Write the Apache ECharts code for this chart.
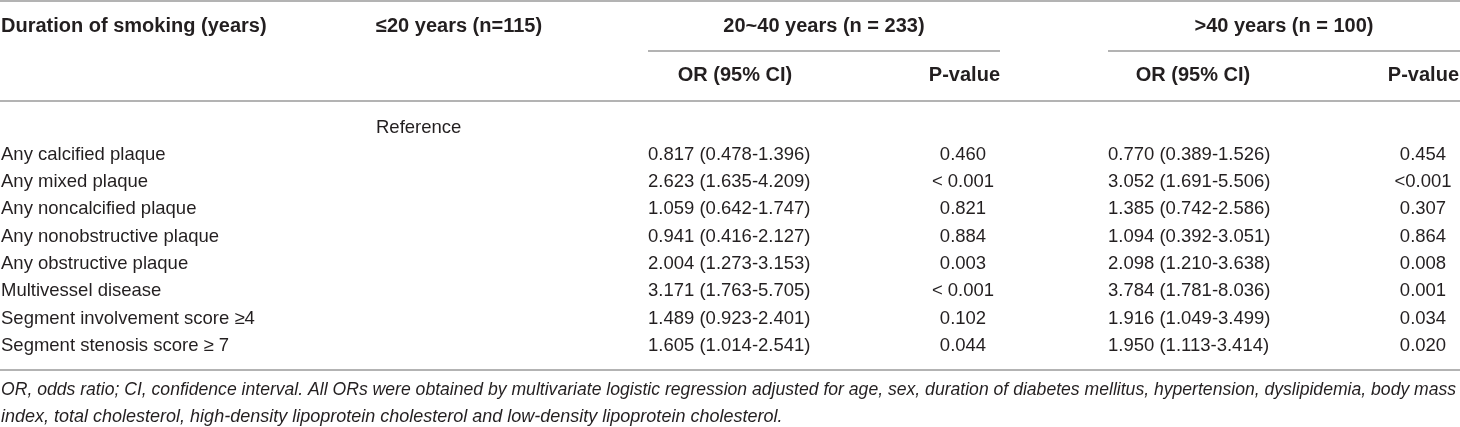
<!DOCTYPE html>
<html>
<head>
<meta charset="utf-8">
<script src="https://cdn.jsdelivr.net/npm/echarts@6/dist/echarts.min.js"></script>
<style>
  html, body { margin: 0; padding: 0; background: #fff; }
  #main { width: 1460px; height: 427px; }
</style>
</head>
<body>
<div id="main"></div>
<script>
// table content
var groupHeaders = ['≤20 years (n=115)', '20~40 years (n = 233)', '>40 years (n = 100)'];
var subHeaders = ['OR (95% CI)', 'P-value'];
var outcomes = [
  'Any calcified plaque',
  'Any mixed plaque',
  'Any noncalcified plaque',
  'Any nonobstructive plaque',
  'Any obstructive plaque',
  'Multivessel disease',
  'Segment involvement score ≥4',
  'Segment stenosis score ≥ 7'
];
var orMid = ['0.817 (0.478-1.396)', '2.623 (1.635-4.209)', '1.059 (0.642-1.747)', '0.941 (0.416-2.127)',
  '2.004 (1.273-3.153)', '3.171 (1.763-5.705)', '1.489 (0.923-2.401)', '1.605 (1.014-2.541)'];
var pMid = ['0.460', '< 0.001', '0.821', '0.884', '0.003', '< 0.001', '0.102', '0.044'];
var orLong = ['0.770 (0.389-1.526)', '3.052 (1.691-5.506)', '1.385 (0.742-2.586)', '1.094 (0.392-3.051)',
  '2.098 (1.210-3.638)', '3.784 (1.781-8.036)', '1.916 (1.049-3.499)', '1.950 (1.113-3.414)'];
var pLong = ['0.454', '<0.001', '0.307', '0.864', '0.008', '0.001', '0.034', '0.020'];
var footnote = [
  'OR, odds ratio; CI, confidence interval. All ORs were obtained by multivariate logistic regression adjusted for age, sex, duration of diabetes mellitus, hypertension, dyslipidemia, body mass',
  'index, total cholesterol, high-density lipoprotein cholesterol and low-density lipoprotein cholesterol.'
];

// layout: x anchor and alignment of each body column
var colX = [1, 376, 648, 963, 1108, 1423];
var colAlign = ['left', 'left', 'left', 'center', 'left', 'center'];
var font = "'Liberation Sans', Arial, sans-serif";
var ink = '#231f20';
var rule = '#b3b3b3';

// rows: reference row + outcomes
var rowNames = [''].concat(outcomes);
var cells = [[1, 0, 'Reference']];
outcomes.forEach(function (name, i) {
  cells.push([0, i + 1, name]);
  cells.push([2, i + 1, orMid[i]]);
  cells.push([3, i + 1, pMid[i]]);
  cells.push([4, i + 1, orLong[i]]);
  cells.push([5, i + 1, pLong[i]]);
});

var myChart = echarts.init(document.getElementById('main'));

function hText(x, y, s, align) {
  return {
    type: 'text', x: x, y: y,
    style: { text: s, fill: ink, align: align, verticalAlign: 'middle', font: 'bold 20px ' + font }
  };
}
function hLine(x1, x2, y) {
  return { type: 'line', shape: { x1: x1, y1: y, x2: x2, y2: y }, style: { stroke: rule, lineWidth: 2 } };
}

var graphics = [
  hLine(0, 1460, 1),
  hLine(648, 1000, 51),
  hLine(1108, 1460, 51),
  hLine(0, 1460, 101),
  hLine(0, 1460, 370),
  hText(1, 26, 'Duration of smoking (years)', 'left'),
  hText(376, 26, groupHeaders[0], 'left'),
  hText(824, 26, groupHeaders[1], 'center'),
  hText(1284, 26, groupHeaders[2], 'center'),
  hText(735, 75, subHeaders[0], 'center'),
  hText(1000, 75, subHeaders[1], 'right'),
  hText(1193, 75, subHeaders[0], 'center'),
  hText(1459, 75, subHeaders[1], 'right')
];
// footnote (first line is justified in the source, so it is sized to the full width)
var footSize = [17.6, 18];
footnote.forEach(function (s, i) {
  graphics.push({
    type: 'text', x: 1, y: 390 + i * 27,
    style: { text: s, fill: ink, align: 'left', verticalAlign: 'middle', font: 'italic ' + footSize[i] + 'px ' + font }
  });
});

var option = {
  animation: false,
  grid: { left: 0, right: 0, top: 113.85, bottom: 67.45 },
  xAxis: { type: 'value', min: 0, max: 1460, show: false },
  yAxis: { type: 'category', data: rowNames, inverse: true, show: false },
  graphic: graphics,
  series: [{
    type: 'custom',
    data: cells,
    encode: { x: 0, y: 1 },
    renderItem: function (params, api) {
      var c = cells[params.dataIndex];
      var p = api.coord([colX[c[0]], c[1]]);
      return {
        type: 'text', x: p[0], y: p[1],
        style: {
          text: c[2], fill: ink, align: colAlign[c[0]], verticalAlign: 'middle',
          font: '18.5px ' + font
        }
      };
    }
  }]
};

myChart.setOption(option);
</script>
</body>
</html>
